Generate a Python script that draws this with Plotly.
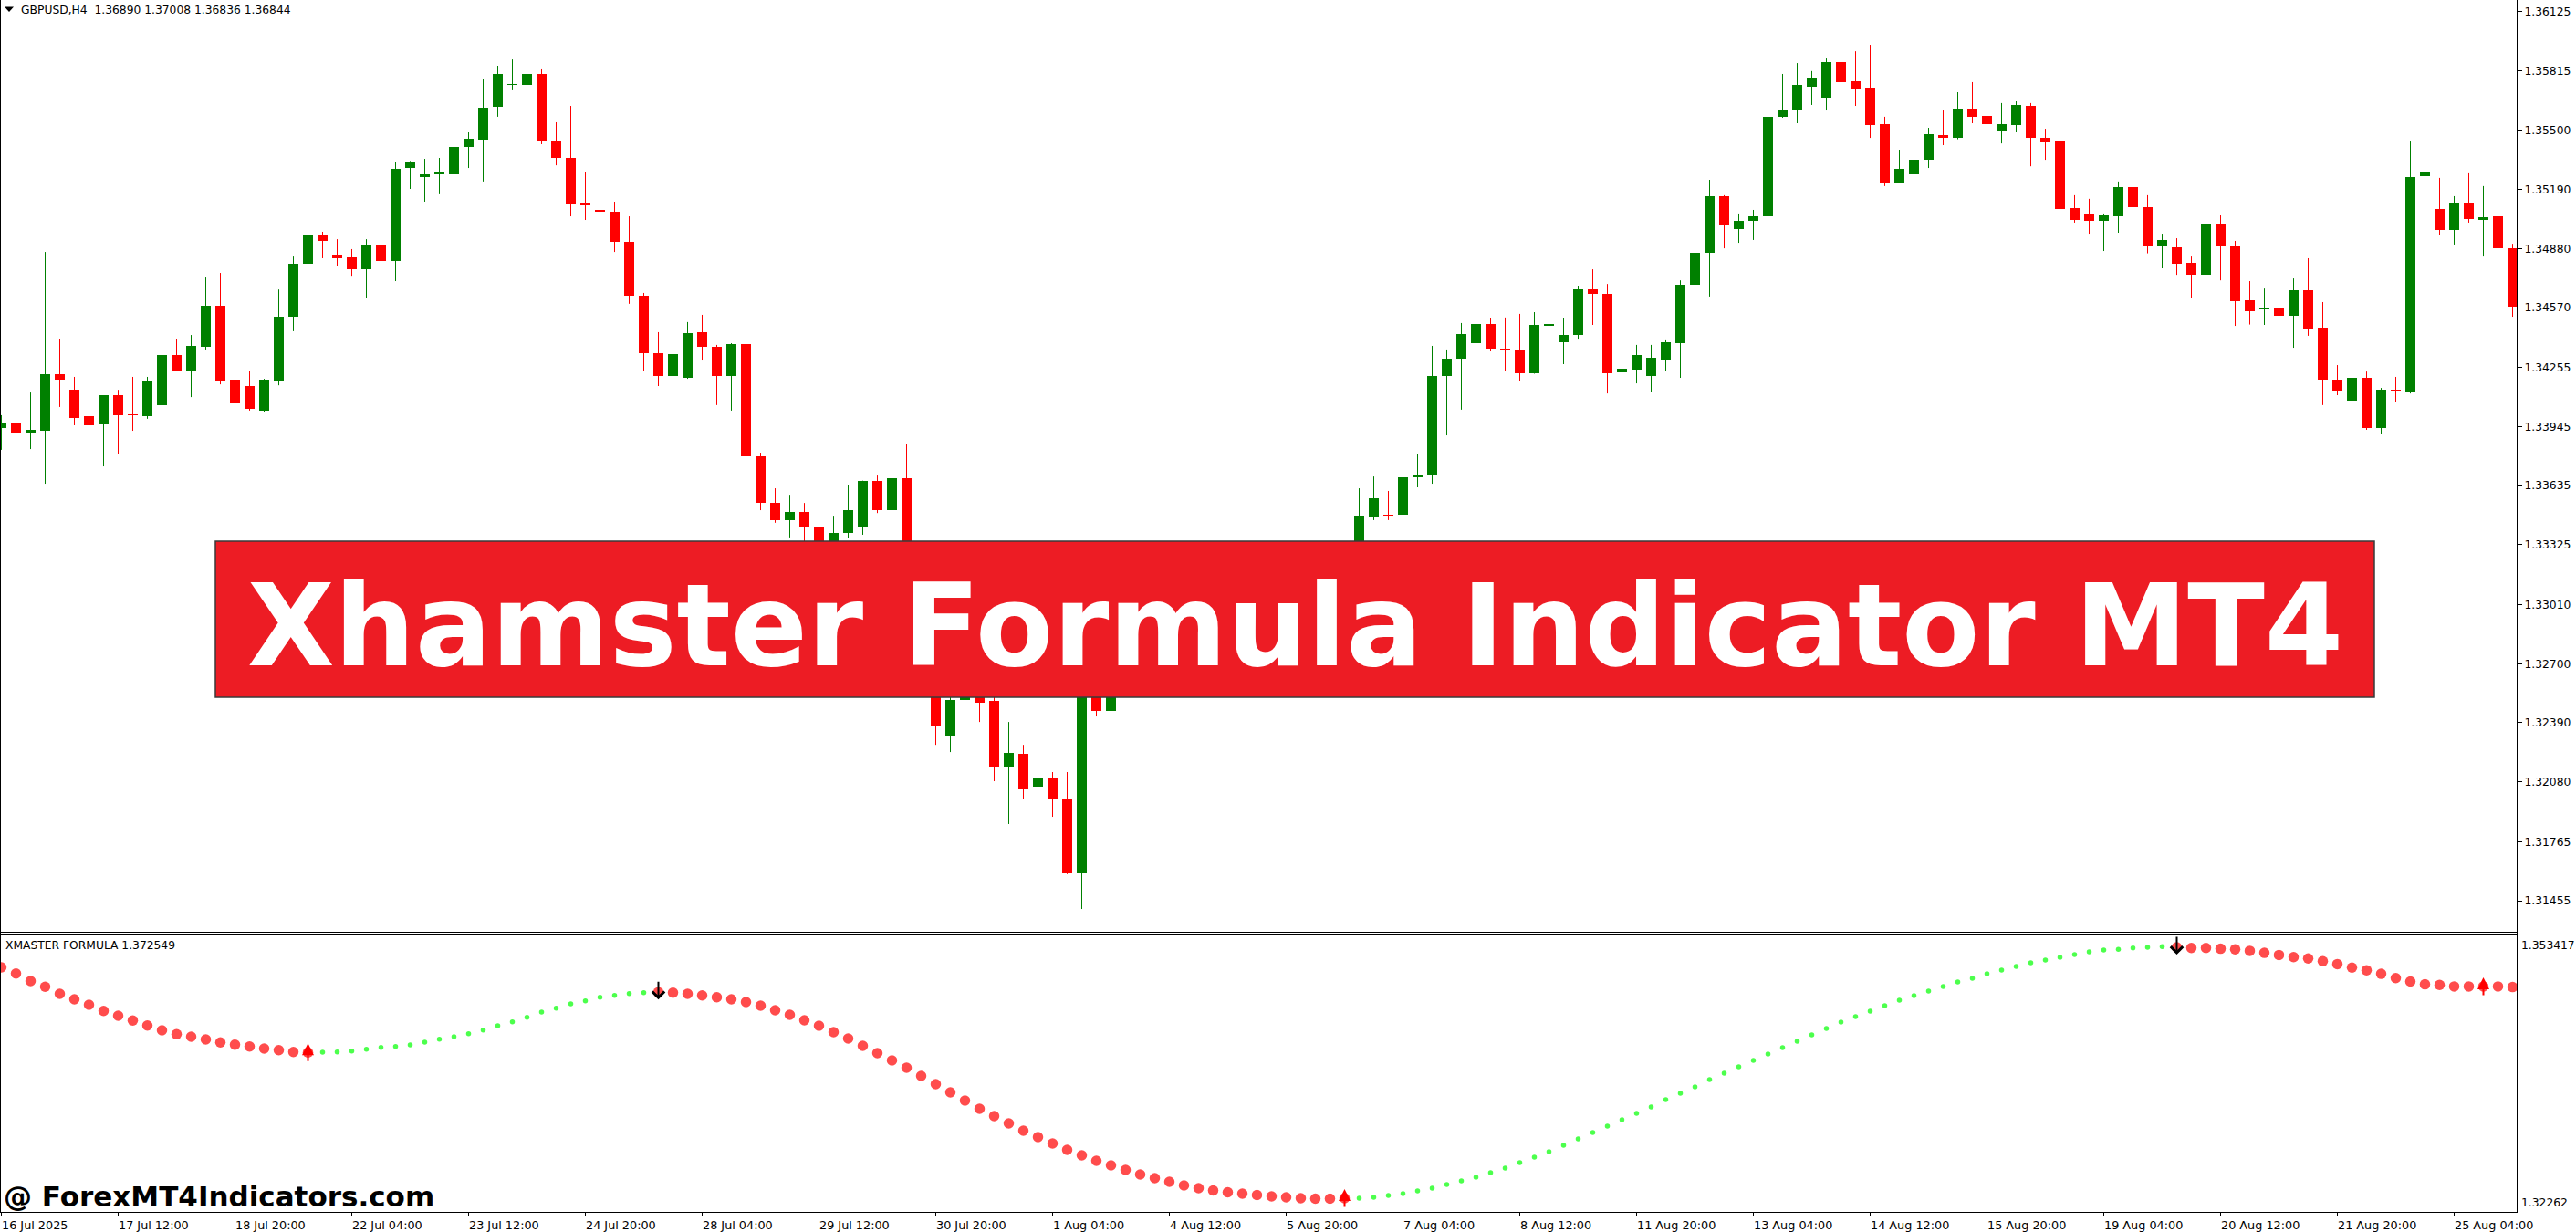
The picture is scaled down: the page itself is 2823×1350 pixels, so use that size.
import plotly.graph_objects as go

# ------------------------------------------------------------------ data
symbol_header = "GBPUSD,H4\u00a0\u00a01.36890 1.37008 1.36836 1.36844"
indicator_label = "XMASTER FORMULA 1.372549"
banner_title = "Xhamster Formula Indicator MT4"
watermark_text = "@ ForexMT4Indicators.com"

bar_open = [
    1.33938, 1.33967, 1.33909, 1.33923, 1.34220, 1.34138, 1.34000, 1.33957, 1.34110, 1.34010,
    1.34000, 1.34058, 1.34321, 1.34234, 1.34364, 1.34580, 1.34191, 1.34158, 1.34029, 1.34186,
    1.34522, 1.34800, 1.34949, 1.34848, 1.34833, 1.34771, 1.34901, 1.34814, 1.35303, 1.35256,
    1.35270, 1.35270, 1.35413, 1.35452, 1.35624, 1.35740, 1.35740, 1.35797, 1.35442, 1.35356,
    1.35121, 1.35083, 1.35073, 1.34915, 1.34633, 1.34330, 1.34210, 1.34201, 1.34441, 1.34364,
    1.34210, 1.34378, 1.33789, 1.33544, 1.33454, 1.33496, 1.33420, 1.33252, 1.33387, 1.33416,
    1.33659, 1.33506, 1.33674, 1.33118, 1.32725, 1.32317, 1.32509, 1.32581, 1.32505, 1.32160,
    1.32226, 1.32054, 1.32102, 1.31992, 1.31599, 1.32543, 1.32452, 1.32567, 1.32629, 1.32601,
    1.32711, 1.32759, 1.32697, 1.32831, 1.32879, 1.32821, 1.32945, 1.33012, 1.32974, 1.33094,
    1.33166, 1.33128, 1.33243, 1.33281, 1.33467, 1.33482, 1.33482, 1.33681, 1.33688, 1.34210,
    1.34302, 1.34383, 1.34484, 1.34354, 1.34350, 1.34225, 1.34474, 1.34388, 1.34424, 1.34665,
    1.34642, 1.34230, 1.34244, 1.34210, 1.34297, 1.34383, 1.34689, 1.34857, 1.35155, 1.34982,
    1.35025, 1.35049, 1.35574, 1.35605, 1.35730, 1.35672, 1.35859, 1.35759, 1.35725, 1.35533,
    1.35227, 1.35270, 1.35346, 1.35476, 1.35461, 1.35615, 1.35576, 1.35495, 1.35528, 1.35629,
    1.35461, 1.35442, 1.35093, 1.35064, 1.35023, 1.35049, 1.35203, 1.35097, 1.34891, 1.34886,
    1.34805, 1.34745, 1.35011, 1.34891, 1.34609, 1.34561, 1.34570, 1.34527, 1.34661, 1.34465,
    1.34191, 1.34081, 1.34201, 1.33938, 1.34138, 1.34129, 1.35261, 1.35088, 1.34977, 1.35121,
    1.35030, 1.35049, 1.34881,
]
bar_high = [
    1.34005, 1.34167, 1.34124, 1.34862, 1.34407, 1.34206, 1.34053, 1.34110, 1.34138, 1.34206,
    1.34206, 1.34383, 1.34407, 1.34426, 1.34728, 1.34752, 1.34215, 1.34239, 1.34196, 1.34665,
    1.34838, 1.35107, 1.34968, 1.34929, 1.34877, 1.34929, 1.34997, 1.35332, 1.35340, 1.35351,
    1.35356, 1.35490, 1.35490, 1.35768, 1.35840, 1.35873, 1.35892, 1.35821, 1.35543, 1.35629,
    1.35284, 1.35126, 1.35126, 1.35049, 1.34647, 1.34441, 1.34378, 1.34494, 1.34532, 1.34374,
    1.34383, 1.34402, 1.33808, 1.33621, 1.33587, 1.33544, 1.33621, 1.33477, 1.33640, 1.33661,
    1.33688, 1.33688, 1.33856, 1.33166, 1.32773, 1.32615, 1.32639, 1.32615, 1.32533, 1.32394,
    1.32274, 1.32131, 1.32131, 1.32131, 1.32581, 1.32581, 1.32601, 1.32663, 1.32677, 1.32745,
    1.32807, 1.32793, 1.32869, 1.32926, 1.32907, 1.32984, 1.33070, 1.33060, 1.33137, 1.33214,
    1.33204, 1.33286, 1.33320, 1.33621, 1.33683, 1.33607, 1.33683, 1.33803, 1.34369, 1.34350,
    1.34489, 1.34532, 1.34513, 1.34518, 1.34537, 1.34546, 1.34590, 1.34513, 1.34685, 1.34771,
    1.34694, 1.34268, 1.34374, 1.34374, 1.34398, 1.34713, 1.35102, 1.35241, 1.35160, 1.35064,
    1.35083, 1.35634, 1.35797, 1.35854, 1.35812, 1.35878, 1.35921, 1.35916, 1.35950, 1.35572,
    1.35399, 1.35356, 1.35514, 1.35605, 1.35701, 1.35754, 1.35591, 1.35644, 1.35653, 1.35644,
    1.35509, 1.35466, 1.35160, 1.35141, 1.35064, 1.35232, 1.35312, 1.35160, 1.34958, 1.34934,
    1.34838, 1.35097, 1.35054, 1.34920, 1.34709, 1.34670, 1.34652, 1.34723, 1.34829, 1.34599,
    1.34268, 1.34210, 1.34234, 1.34148, 1.34206, 1.35442, 1.35442, 1.35251, 1.35155, 1.35275,
    1.35208, 1.35136, 1.34905,
]
bar_low = [
    1.33823, 1.33890, 1.33827, 1.33645, 1.34048, 1.33952, 1.33837, 1.33736, 1.33799, 1.33923,
    1.33986, 1.34024, 1.34237, 1.34100, 1.34350, 1.34167, 1.34053, 1.34029, 1.34019, 1.34162,
    1.34446, 1.34665, 1.34829, 1.34790, 1.34737, 1.34618, 1.34747, 1.34709, 1.35193, 1.35126,
    1.35165, 1.35155, 1.35303, 1.35232, 1.35572, 1.35711, 1.35738, 1.35428, 1.35317, 1.35049,
    1.35030, 1.35021, 1.34862, 1.34590, 1.34239, 1.34158, 1.34191, 1.34196, 1.34292, 1.34058,
    1.34029, 1.33765, 1.33506, 1.33440, 1.33363, 1.33310, 1.33204, 1.33190, 1.33358, 1.33377,
    1.33491, 1.33416, 1.33070, 1.32663, 1.32274, 1.32236, 1.32413, 1.32394, 1.32083, 1.31858,
    1.31992, 1.31925, 1.31896, 1.31595, 1.31412, 1.32423, 1.32160, 1.32533, 1.32553, 1.32567,
    1.32663, 1.32649, 1.32668, 1.32773, 1.32783, 1.32793, 1.32907, 1.32926, 1.32945, 1.33046,
    1.33080, 1.33094, 1.33195, 1.33252, 1.33454, 1.33454, 1.33463, 1.33626, 1.33645, 1.33899,
    1.34034, 1.34340, 1.34340, 1.34239, 1.34182, 1.34223, 1.34426, 1.34273, 1.34402, 1.34479,
    1.34119, 1.33991, 1.34172, 1.34129, 1.34239, 1.34201, 1.34460, 1.34628, 1.34881, 1.34910,
    1.34925, 1.35001, 1.35567, 1.35538, 1.35634, 1.35605, 1.35701, 1.35629, 1.35461, 1.35208,
    1.35225, 1.35191, 1.35303, 1.35423, 1.35454, 1.35538, 1.35495, 1.35432, 1.35490, 1.35312,
    1.35346, 1.35071, 1.35016, 1.34958, 1.34867, 1.34963, 1.35030, 1.34855, 1.34776, 1.34742,
    1.34621, 1.34713, 1.34713, 1.34474, 1.34481, 1.34479, 1.34479, 1.34359, 1.34422, 1.34058,
    1.34110, 1.34053, 1.33928, 1.33904, 1.34072, 1.34119, 1.35169, 1.34949, 1.34901, 1.35016,
    1.34838, 1.34848, 1.34522,
]
bar_close = [
    1.33967, 1.33909, 1.33928, 1.34220, 1.34191, 1.33991, 1.33952, 1.34110, 1.34005, 1.34005,
    1.34186, 1.34321, 1.34239, 1.34369, 1.34580, 1.34186, 1.34067, 1.34039, 1.34191, 1.34522,
    1.34800, 1.34949, 1.34920, 1.34829, 1.34771, 1.34901, 1.34814, 1.35298, 1.35336, 1.35270,
    1.35279, 1.35413, 1.35456, 1.35620, 1.35797, 1.35744, 1.35797, 1.35442, 1.35356, 1.35112,
    1.35107, 1.35073, 1.34915, 1.34633, 1.34330, 1.34210, 1.34326, 1.34436, 1.34364, 1.34210,
    1.34378, 1.33789, 1.33544, 1.33454, 1.33496, 1.33416, 1.33262, 1.33387, 1.33506, 1.33659,
    1.33506, 1.33674, 1.33118, 1.32725, 1.32370, 1.32509, 1.32581, 1.32495, 1.32160, 1.32231,
    1.32040, 1.32102, 1.31992, 1.31599, 1.32543, 1.32452, 1.32553, 1.32629, 1.32601, 1.32711,
    1.32759, 1.32697, 1.32831, 1.32879, 1.32821, 1.32945, 1.33012, 1.32974, 1.33094, 1.33166,
    1.33128, 1.33243, 1.33281, 1.33477, 1.33568, 1.33477, 1.33681, 1.33688, 1.34210, 1.34302,
    1.34431, 1.34484, 1.34354, 1.34345, 1.34225, 1.34479, 1.34484, 1.34426, 1.34665, 1.34642,
    1.34225, 1.34249, 1.34321, 1.34306, 1.34388, 1.34689, 1.34857, 1.35155, 1.35001, 1.35025,
    1.35049, 1.35572, 1.35610, 1.35740, 1.35773, 1.35859, 1.35754, 1.35720, 1.35528, 1.35227,
    1.35298, 1.35346, 1.35480, 1.35461, 1.35615, 1.35574, 1.35533, 1.35532, 1.35634, 1.35461,
    1.35437, 1.35088, 1.35030, 1.35023, 1.35054, 1.35203, 1.35097, 1.34891, 1.34925, 1.34800,
    1.34745, 1.35011, 1.34891, 1.34606, 1.34551, 1.34570, 1.34527, 1.34661, 1.34460, 1.34191,
    1.34134, 1.34201, 1.33938, 1.34138, 1.34134, 1.35256, 1.35277, 1.34977, 1.35121, 1.35035,
    1.35045, 1.34881, 1.34575,
]

# XMaster Formula indicator line (one value per bar)
xm_values = [
    1.349770, 1.349091, 1.348250, 1.347612, 1.346832, 1.346224, 1.345616, 1.344938, 1.344401, 1.343864,
    1.343317, 1.342780, 1.342344, 1.342071, 1.341767, 1.341433, 1.341189, 1.340987, 1.340754, 1.340582,
    1.340379, 1.340318, 1.340349, 1.340379, 1.340480, 1.340683, 1.340885, 1.340987, 1.341159, 1.341463,
    1.341797, 1.342071, 1.342405, 1.342810, 1.343286, 1.343722, 1.344229, 1.344806, 1.345242, 1.345718,
    1.346052, 1.346457, 1.346660, 1.346863, 1.346964, 1.347004, 1.346964, 1.346832, 1.346660, 1.346457,
    1.346224, 1.345920, 1.345515, 1.345009, 1.344502, 1.343894, 1.343286, 1.342577, 1.341868, 1.341058,
    1.340247, 1.339437, 1.338626, 1.337715, 1.336803, 1.335891, 1.334979, 1.334068, 1.333257, 1.332447,
    1.331636, 1.330927, 1.330218, 1.329509, 1.328901, 1.328293, 1.327787, 1.327280, 1.326774, 1.326368,
    1.325963, 1.325558, 1.325254, 1.325001, 1.324798, 1.324646, 1.324494, 1.324342, 1.324241, 1.324140,
    1.324089, 1.324089, 1.324140, 1.324140, 1.324241, 1.324443, 1.324646, 1.324950, 1.325254, 1.325659,
    1.326064, 1.326470, 1.326976, 1.327483, 1.328091, 1.328698, 1.329306, 1.330015, 1.330725, 1.331434,
    1.332143, 1.332852, 1.333561, 1.334270, 1.335081, 1.335790, 1.336499, 1.337309, 1.338019, 1.338728,
    1.339437, 1.340146, 1.340855, 1.341564, 1.342273, 1.342983, 1.343692, 1.344300, 1.344907, 1.345515,
    1.346123, 1.346630, 1.347136, 1.347643, 1.348149, 1.348554, 1.349061, 1.349466, 1.349871, 1.350277,
    1.350580, 1.350884, 1.351188, 1.351492, 1.351695, 1.351766, 1.351918, 1.351999, 1.352070, 1.351999,
    1.351918, 1.351918, 1.351837, 1.351766, 1.351604, 1.351381, 1.351148, 1.350915, 1.350753, 1.350449,
    1.350135, 1.349750, 1.349436, 1.349051, 1.348585, 1.348200, 1.347886, 1.347815, 1.347653, 1.347653,
    1.347653, 1.347653, 1.347582,
]
trend_start_bars = [0, 22, 45, 93, 149]
trend_dirs = ["down", "up", "down", "up", "down"]
up_arrow_bars = [21, 92, 170]
down_arrow_bars = [45, 149]

price_ticks = [1.36125, 1.35815, 1.35500, 1.35190, 1.34880, 1.34570, 1.34255, 1.33945,
               1.33635, 1.33325, 1.33010, 1.32700, 1.32390, 1.32080, 1.31765, 1.31455]
main_axis_min, main_axis_max = 1.312924, 1.36185
xm_axis_min, xm_axis_max = 1.32262, 1.353417
xm_axis_labels = ["1.353417", "1.32262"]

date_tick_bars = [0, 8, 16, 24, 32, 40, 48, 56, 64, 72, 80, 88, 96, 104, 112, 120, 128,
                  136, 144, 152, 160, 168]
date_tick_labels = ["16 Jul 2025", "17 Jul 12:00", "18 Jul 20:00", "22 Jul 04:00",
                    "23 Jul 12:00", "24 Jul 20:00", "28 Jul 04:00", "29 Jul 12:00",
                    "30 Jul 20:00", "1 Aug 04:00", "4 Aug 12:00", "5 Aug 20:00",
                    "7 Aug 04:00", "8 Aug 12:00", "11 Aug 20:00", "13 Aug 04:00",
                    "14 Aug 12:00", "15 Aug 20:00", "19 Aug 04:00", "20 Aug 12:00",
                    "21 Aug 20:00", "25 Aug 04:00"]

# ------------------------------------------------------------------ style / geometry
FIG_W, FIG_H = 2823, 1350
PLOT_R, PLOT_B = 2758, 1328        # plot area right / bottom in px
MAIN_B, IND_T = 1021, 1024         # main pane bottom, indicator pane top
BAR_PITCH, BAR0_PX = 16.0, 1.5     # px between bars, px of first bar centre
BULL, BEAR = "#008000", "#FF0000"
XM_UP, XM_DN = "#00FF00", "#FF0000"
BANNER_RED = "#ED1C24"
FONT = "DejaVu Sans"


def px_x(p):
    return p / PLOT_R


def px_y(p):
    return (PLOT_B - p) / PLOT_B


n = len(bar_open)
bars = list(range(n))
x_range = [(0 - BAR0_PX) / BAR_PITCH, (PLOT_R - BAR0_PX) / BAR_PITCH]

fig = go.Figure()

# ---- candles
MIN_BODY = 0.00006
for color, ids in ((BULL, [i for i in bars if bar_close[i] > bar_open[i]]),
                   (BEAR, [i for i in bars if bar_close[i] <= bar_open[i]])):
    wx, wy = [], []
    for i in ids:
        wx += [i, i, None]
        wy += [bar_low[i], bar_high[i], None]
    fig.add_trace(go.Scatter(x=wx, y=wy, mode="lines", line=dict(color=color, width=1),
                             hoverinfo="skip", xaxis="x", yaxis="y"))
    bases, heights = [], []
    for i in ids:
        lo, hi = min(bar_open[i], bar_close[i]), max(bar_open[i], bar_close[i])
        if hi - lo < MIN_BODY:
            mid = (hi + lo) / 2
            lo, hi = mid - MIN_BODY / 2, mid + MIN_BODY / 2
        bases.append(lo)
        heights.append(hi - lo)
    fig.add_trace(go.Bar(x=ids, y=heights, base=bases, width=11 / BAR_PITCH,
                         marker=dict(color=color, line=dict(width=0)),
                         hoverinfo="skip", xaxis="x", yaxis="y"))

# ---- indicator dots
dirs = []
for i in bars:
    d = trend_dirs[0]
    for s, dd in zip(trend_start_bars, trend_dirs):
        if i >= s:
            d = dd
    dirs.append(d)
fig.add_trace(go.Scatter(
    x=bars, y=xm_values, mode="markers",
    marker=dict(color=[XM_UP if d == "up" else XM_DN for d in dirs],
                size=[5.5 if d == "up" else 11.5 for d in dirs], line=dict(width=0)),
    hoverinfo="skip", xaxis="x2", yaxis="y2"))

annotations = []
for b in down_arrow_bars:
    annotations.append(dict(x=b, y=xm_values[b], xref="x2", yref="y2", text="",
                            showarrow=True, arrowhead=4, arrowsize=1.3, arrowwidth=2,
                            arrowcolor="black", ax=0, ay=-21, yshift=-8))
for b in up_arrow_bars:
    annotations.append(dict(x=b, y=xm_values[b], xref="x2", yref="y2", text="",
                            showarrow=True, arrowhead=2, arrowsize=1.3, arrowwidth=2,
                            arrowcolor=BEAR, ax=0, ay=21, yshift=10))

# ---- texts
small = dict(family=FONT, size=12.3, color="black")
annotations.append(dict(x=px_x(21), y=px_y(10.5), xref="paper", yref="paper",
                        text=symbol_header, showarrow=False, xanchor="left",
                        yanchor="middle", font=small))
annotations.append(dict(x=px_x(4), y=px_y(1036), xref="paper", yref="paper",
                        text=indicator_label, showarrow=False, xanchor="left",
                        yanchor="middle", font=small))
annotations.append(dict(x=1, y=xm_axis_max, xref="paper", yref="y2", text=xm_axis_labels[0],
                        showarrow=False, xanchor="left", yanchor="top", xshift=3, yshift=-3,
                        font=small))
annotations.append(dict(x=1, y=xm_axis_min, xref="paper", yref="y2", text=xm_axis_labels[1],
                        showarrow=False, xanchor="left", yanchor="bottom", xshift=3, yshift=1,
                        font=small))
for b, lab in zip(date_tick_bars, date_tick_labels):
    annotations.append(dict(x=b, y=0, xref="x2", yref="paper", text=lab, showarrow=False,
                            xanchor="left", yanchor="top", yshift=-5, xshift=-2,
                            font=dict(family=FONT, size=12.8, color="black")))
annotations.append(dict(x=px_x(1419.5), y=px_y(686), xref="paper", yref="paper",
                        text="<b>" + banner_title + "</b>", showarrow=False,
                        xanchor="center", yanchor="middle",
                        font=dict(family=FONT, size=124, color="white")))
annotations.append(dict(x=px_x(2), y=px_y(1311), xref="paper", yref="paper",
                        text="<b>" + watermark_text + "</b>", showarrow=False,
                        xanchor="left", yanchor="middle",
                        font=dict(family=FONT, size=31, color="black")))

# ---- frame lines, banner, header triangle
line_k = dict(color="black", width=1)
shapes = [
    dict(type="line", xref="paper", yref="paper", x0=px_x(0.5), x1=px_x(0.5),
         y0=0, y1=1, line=line_k),
    dict(type="line", xref="paper", yref="paper", x0=px_x(PLOT_R + 0.5), x1=px_x(PLOT_R + 0.5),
         y0=0, y1=1, line=line_k),
    dict(type="line", xref="paper", yref="paper", x0=0, x1=1,
         y0=px_y(MAIN_B + 0.5), y1=px_y(MAIN_B + 0.5), line=line_k),
    dict(type="line", xref="paper", yref="paper", x0=0, x1=1,
         y0=px_y(IND_T + 0.5), y1=px_y(IND_T + 0.5), line=line_k),
    dict(type="rect", xref="paper", yref="paper", x0=px_x(236), x1=px_x(2602),
         y0=px_y(764), y1=px_y(593), fillcolor=BANNER_RED,
         line=dict(color="#3a3a3a", width=1.5), layer="above"),
    dict(type="path", xref="paper", yref="paper",
         path="M {a},{b} L {c},{b} L {d},{e} Z".format(
             a=px_x(5), b=px_y(7.5), c=px_x(15), d=px_x(10), e=px_y(13)),
         fillcolor="black", line=dict(width=0)),
]

axis_font = dict(family=FONT, size=12.3, color="black")
fig.update_layout(
    width=FIG_W, height=FIG_H, autosize=False,
    margin=dict(l=0, r=FIG_W - PLOT_R, t=0, b=FIG_H - PLOT_B, pad=0),
    paper_bgcolor="white", plot_bgcolor="white", showlegend=False,
    barmode="overlay", bargap=0,
    xaxis=dict(domain=[0, 1], range=x_range, anchor="y", visible=False, fixedrange=True),
    xaxis2=dict(domain=[0, 1], range=x_range, anchor="y2", matches="x", showline=True,
                linecolor="black", linewidth=1, ticks="outside", ticklen=4,
                tickcolor="black", tickwidth=1, tickvals=date_tick_bars,
                showticklabels=False, showgrid=False, zeroline=False, fixedrange=True),
    yaxis=dict(domain=[px_y(MAIN_B), 1], range=[main_axis_min, main_axis_max], anchor="x",
               side="right", showline=True, linecolor="black", linewidth=1,
               ticks="outside", ticklen=5, tickcolor="black", tickwidth=1,
               tickvals=price_ticks, ticktext=["%.5f" % v for v in price_ticks],
               tickfont=axis_font, showgrid=False, zeroline=False, fixedrange=True,
               automargin=False),
    yaxis2=dict(domain=[0, px_y(IND_T)], range=[xm_axis_min, xm_axis_max], anchor="x2",
                side="right", showline=True, linecolor="black", linewidth=1,
                ticks="", showticklabels=False, showgrid=False, zeroline=False,
                fixedrange=True, automargin=False),
    shapes=shapes,
    annotations=annotations,
)

fig.write_html("out.html", include_plotlyjs=True, full_html=True,
               config={"displayModeBar": False, "staticPlot": True},
               post_script="document.body.style.margin='0';document.body.style.overflow='hidden';")
